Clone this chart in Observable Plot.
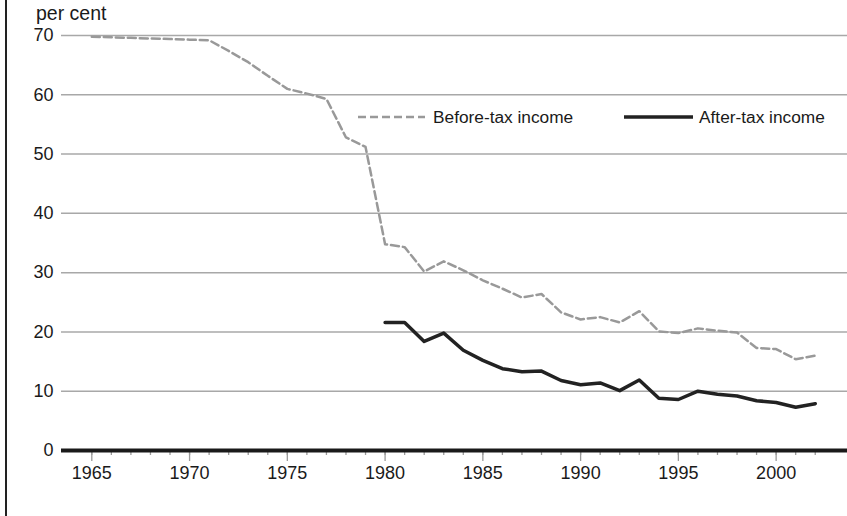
<!DOCTYPE html>
<html>
<head>
<meta charset="utf-8">
<script src="https://cdn.jsdelivr.net/npm/d3@7"></script>
<script src="https://cdn.jsdelivr.net/npm/@observablehq/plot@0.6"></script>
<style>
  html, body { margin: 0; padding: 0; background: #fff; }
  #wrap { position: relative; width: 847px; height: 516px; overflow: hidden; font-family: "Liberation Sans", Arial, sans-serif; color: #1a1a1a; }
  #frame { position: absolute; left: 5px; top: 0; width: 1.5px; height: 516px; background: #222; }
  #unit { position: absolute; left: 36px; top: 2px; font-size: 19.5px; line-height: 22px; }
  #legend { position: absolute; left: 0; top: 0; pointer-events: none; }
</style>
</head>
<body>
<div id="wrap">
  <div id="chart"></div>
  <div id="frame"></div>
  <div id="unit">per cent</div>
  <svg id="legend" width="847" height="516"></svg>
</div>
<script>
const years = [1965,1966,1967,1968,1969,1970,1971,1972,1973,1974,1975,1976,1977,1978,1979,1980,1981,1982,1983,1984,1985,1986,1987,1988,1989,1990,1991,1992,1993,1994,1995,1996,1997,1998,1999,2000,2001,2002];
const beforeTax = [69.8,69.7,69.6,69.5,69.4,69.3,69.2,67.4,65.5,63.2,61.0,60.2,59.3,52.8,51.2,34.8,34.3,30.2,31.9,30.4,28.7,27.3,25.8,26.4,23.3,22.1,22.5,21.6,23.5,20.1,19.8,20.6,20.2,19.9,17.3,17.1,15.4,16.0];
const afterYears = [1980,1981,1982,1983,1984,1985,1986,1987,1988,1989,1990,1991,1992,1993,1994,1995,1996,1997,1998,1999,2000,2001,2002];
const afterTax = [21.6,21.6,18.4,19.8,16.9,15.2,13.8,13.3,13.4,11.8,11.1,11.4,10.1,11.9,8.8,8.6,10.0,9.5,9.2,8.4,8.1,7.3,7.9];
const yTicks = [0,10,20,30,40,50,60,70];
const gridValues = [10,20,30,40,50,60,70];
const majorYears = [1965,1970,1975,1980,1985,1990,1995,2000];
const minorYears = d3.range(1965, 2003);
const seriesNames = ["Before-tax income", "After-tax income"];

const before = years.map((y, i) => ({year: y, value: beforeTax[i]}));
const after = afterYears.map((y, i) => ({year: y, value: afterTax[i]}));

const chart = Plot.plot({
  width: 847,
  height: 516,
  marginLeft: 61,
  marginRight: 0,
  marginTop: 35,
  marginBottom: 66,
  style: {fontFamily: '"Liberation Sans", Arial, sans-serif', fontSize: "18px", color: "#1a1a1a", background: "transparent"},
  x: {domain: [1963.45, 2003.65]},
  y: {domain: [0, 70]},
  marks: [
    Plot.ruleY(gridValues, {stroke: "#a8a8a8", strokeWidth: 1.5}),
    Plot.axisY(yTicks, {tickSize: 0, tickPadding: 8, label: null, fill: "#1a1a1a", fontSize: 18}),
    Plot.axisX(minorYears, {tickSize: 5, tickFormat: () => "", stroke: "#9a9a9a", strokeWidth: 1.3, label: null}),
    Plot.axisX(majorYears, {tickSize: 11, tickPadding: 5, tickFormat: d => String(d), stroke: "#9a9a9a", strokeWidth: 1.3, fill: "#1a1a1a", label: null, fontSize: 18}),
    Plot.line(before, {x: "year", y: "value", stroke: "#999", strokeWidth: 2.5, strokeDasharray: "8,4"}),
    Plot.line(after, {x: "year", y: "value", stroke: "#222", strokeWidth: 3.5}),
    Plot.ruleY([0], {stroke: "#1a1a1a", strokeWidth: 4})
  ]
});
document.getElementById("chart").appendChild(chart);

// legend overlay
const lg = d3.select("#legend");
const items = [
  {name: seriesNames[0], x1: 358, x2: 425, tx: 433, stroke: "#999", w: 2.5, dash: "8,4"},
  {name: seriesNames[1], x1: 624, x2: 693, tx: 699, stroke: "#222", w: 3.5, dash: null}
];
items.forEach(it => {
  lg.append("line").attr("x1", it.x1).attr("x2", it.x2).attr("y1", 117).attr("y2", 117)
    .attr("stroke", it.stroke).attr("stroke-width", it.w).attr("stroke-dasharray", it.dash);
  lg.append("text").attr("x", it.tx).attr("y", 123).attr("font-size", 17.3)
    .attr("font-family", '"Liberation Sans", Arial, sans-serif').attr("fill", "#1a1a1a").text(it.name);
});
</script>
</body>
</html>
